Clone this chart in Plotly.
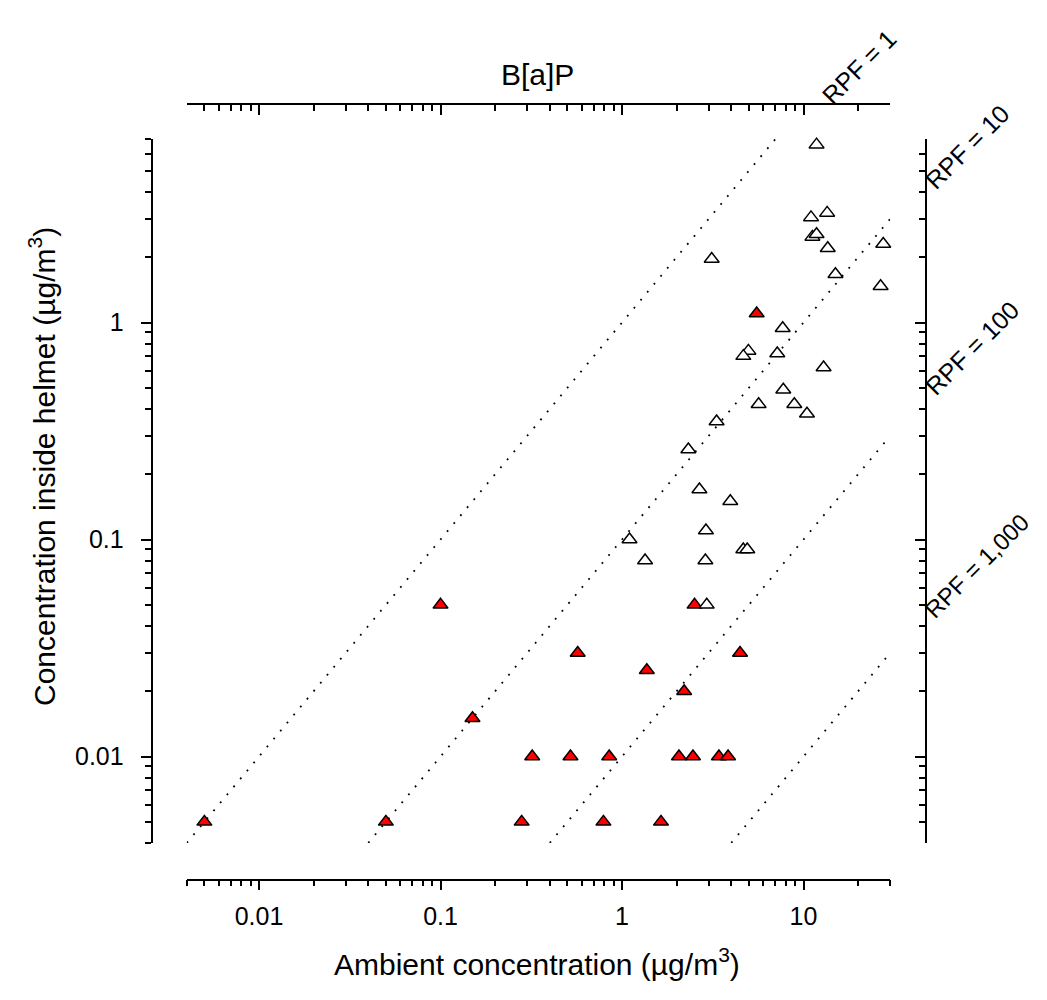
import plotly.graph_objects as go
import numpy as np

# ---------------- data ----------------
# filled red triangles
x_red = [0.005, 0.05, 0.28, 0.79, 1.64, 0.32, 0.52, 0.85, 2.06, 2.46, 3.42, 3.84,
         0.15, 2.2, 1.37, 0.57, 4.47, 0.1, 2.51, 5.52]
y_red = [0.005, 0.005, 0.005, 0.005, 0.005, 0.01, 0.01, 0.01, 0.01, 0.01, 0.01, 0.01,
         0.015, 0.02, 0.025, 0.03, 0.03, 0.05, 0.05, 1.1]
# open triangles
x_open = [11.8, 11.0, 13.5, 11.2, 11.8, 13.6, 27.5, 15.0, 26.6, 3.12, 7.68, 4.97, 4.66,
          7.17, 12.9, 7.74, 5.66, 8.9, 10.45, 3.32, 2.32, 2.67, 3.95, 2.9, 1.1, 4.66,
          4.9, 1.34, 2.88, 2.93]
y_open = [6.6, 3.05, 3.2, 2.48, 2.55, 2.2, 2.3, 1.67, 1.47, 1.96, 0.94, 0.74, 0.7,
          0.72, 0.62, 0.49, 0.42, 0.42, 0.38, 0.35, 0.26, 0.17, 0.15, 0.11, 0.1, 0.09,
          0.09, 0.08, 0.08, 0.05]

rpf_values = [1, 10, 100, 1000]
rpf_labels = ["RPF = 1", "RPF = 10", "RPF = 100", "RPF = 1,000"]

x_lim = [0.004, 30]
y_lim = [0.004, 7]

x_major = [0.01, 0.1, 1, 10]
x_major_text = ["0.01", "0.1", "1", "10"]
x_minor = [0.004, 0.005, 0.006, 0.007, 0.008, 0.009,
           0.02, 0.03, 0.04, 0.05, 0.06, 0.07, 0.08, 0.09,
           0.2, 0.3, 0.4, 0.5, 0.6, 0.7, 0.8, 0.9,
           2, 3, 4, 5, 6, 7, 8, 9, 20, 30]
y_major = [0.01, 0.1, 1]
y_major_text = ["0.01", "0.1", "1"]
y_minor = [0.004, 0.005, 0.006, 0.007, 0.008, 0.009,
           0.02, 0.03, 0.04, 0.05, 0.06, 0.07, 0.08, 0.09,
           0.2, 0.3, 0.4, 0.5, 0.6, 0.7, 0.8, 0.9,
           2, 3, 4, 5, 6, 7]

# ---------------- layout geometry ----------------
OFF = 8                      # default page body margin
FW, FH = 1031, 984           # fits inside the window with the body margins
ML, MT = 132, 92
MR = FW - 922
MB = FH - 877
PW = FW - ML - MR
PH = FH - MT - MB


def px(xp):
    """page pixel x -> paper fraction"""
    return (xp - OFF - ML) / PW


def py(yp):
    """page pixel y -> paper fraction"""
    return (FH - MB - (yp - OFF)) / PH


FONT = "Liberation Sans, Arial, Helvetica, sans-serif"
TICKFONT = dict(family=FONT, size=25, color="black")
LW = 1.6
MSIZE = 13

fig = go.Figure()

# RPF reference lines (y = x / RPF), clipped to plotting region
for k in rpf_values:
    x0 = y_lim[0] * k
    x1 = min(x_lim[1], y_lim[1] * k)
    xs = np.array([x0, x1])
    fig.add_trace(go.Scatter(
        x=xs, y=xs / k, mode="lines",
        line=dict(color="black", width=1.8, dash="1.8px,8.6px"),
        hoverinfo="skip", showlegend=False))

fig.add_trace(go.Scatter(
    x=x_red, y=y_red, mode="markers", showlegend=False, cliponaxis=False,
    marker=dict(symbol="triangle-up", size=MSIZE, color="#ff0000",
                line=dict(color="black", width=1.5))))
fig.add_trace(go.Scatter(
    x=x_open, y=y_open, mode="markers", showlegend=False, cliponaxis=False,
    marker=dict(symbol="triangle-up", size=MSIZE, color="white",
                line=dict(color="black", width=1.5))))
# invisible trace so that the top/right axes are drawn
fig.add_trace(go.Scatter(
    x=x_open, y=y_open, xaxis="x2", yaxis="y2", mode="markers",
    marker=dict(opacity=0), hoverinfo="skip", showlegend=False))

x_dom = [px(186.8), px(890.1)]
y_dom = [py(842.9), py(139.1)]
xr = [np.log10(x_lim[0]), np.log10(x_lim[1])]
yr = [np.log10(y_lim[0]), np.log10(y_lim[1])]

common_x = dict(type="log", range=xr, domain=x_dom, showgrid=False, zeroline=False,
                showline=True, linecolor="black", linewidth=LW,
                tickvals=x_major, ticktext=x_major_text, ticklen=10, tickwidth=LW,
                tickcolor="black", tickfont=TICKFONT, anchor="free")
common_y = dict(type="log", range=yr, domain=y_dom, showgrid=False, zeroline=False,
                showline=True, linecolor="black", linewidth=LW,
                tickvals=y_major, ticktext=y_major_text, ticklen=10, tickwidth=LW,
                tickcolor="black", tickfont=TICKFONT, anchor="free")

fig.update_layout(
    width=FW, height=FH,
    margin=dict(l=ML, r=MR, t=MT, b=MB, pad=0),
    paper_bgcolor="white", plot_bgcolor="rgba(0,0,0,0)",
    font=dict(family=FONT, color="black"),
    xaxis=dict(**common_x, position=py(879.5), side="bottom", ticks="outside",
               ticklabelstandoff=5,
               minor=dict(tickvals=x_minor, ticks="outside", ticklen=6,
                          tickwidth=LW, tickcolor="black", showgrid=False)),
    xaxis2=dict(**common_x, position=py(104), side="top", overlaying="x",
                ticks="inside", showticklabels=False,
                minor=dict(tickvals=x_minor, ticks="inside", ticklen=6,
                           tickwidth=LW, tickcolor="black", showgrid=False)),
    yaxis=dict(**common_y, position=px(151.5), side="left", ticks="outside",
               ticklabelstandoff=12,
               minor=dict(tickvals=y_minor, ticks="outside", ticklen=6,
                          tickwidth=LW, tickcolor="black", showgrid=False)),
    yaxis2=dict(**common_y, position=px(926), side="right", overlaying="y",
                ticks="inside", showticklabels=False,
                minor=dict(tickvals=y_minor, ticks="inside", ticklen=6,
                           tickwidth=LW, tickcolor="black", showgrid=False)),
)

annos = [
    dict(text="B[a]P", x=px(537), y=py(74), size=30, angle=0),
    dict(text="Ambient concentration (µg/m<sup>3</sup>)", x=px(537), y=py(962), size=30, angle=0),
    dict(text="Concentration inside helmet (µg/m<sup>3</sup>)", x=px(42), y=py(467), size=30, angle=-90),
]
rpf_pos = [(859, 67), (967, 147), (972, 348), (976, 566)]
rpf_sizes = [25, 25, 25, 24]
for lab, (ax_, ay_), fs in zip(rpf_labels, rpf_pos, rpf_sizes):
    annos.append(dict(text=lab, x=px(ax_), y=py(ay_), size=fs, angle=-45))

for a in annos:
    fig.add_annotation(text=a["text"], x=a["x"], y=a["y"], xref="paper", yref="paper",
                       xanchor="center", yanchor="middle", showarrow=False,
                       textangle=a["angle"],
                       font=dict(family=FONT, size=a["size"], color="black"))

fig.write_html("out.html")
